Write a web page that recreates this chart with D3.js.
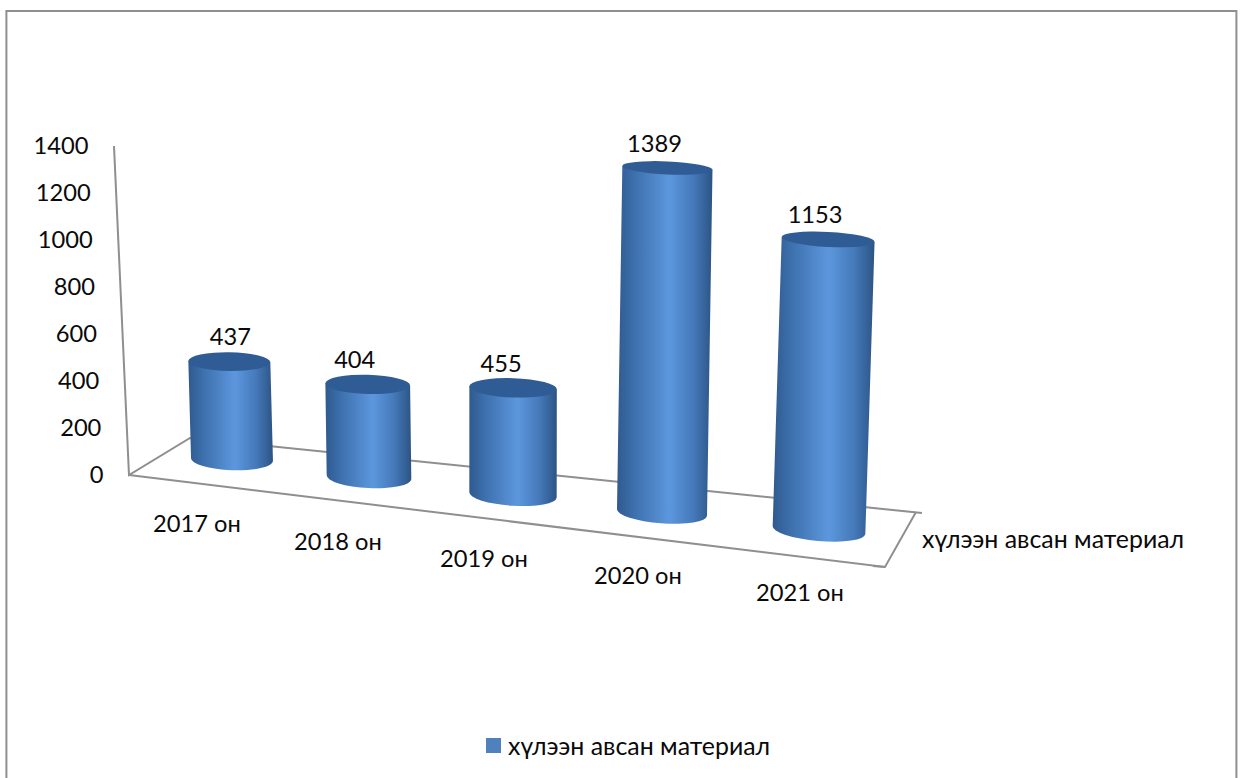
<!DOCTYPE html>
<html>
<head>
<meta charset="utf-8">
<script src="https://cdn.jsdelivr.net/npm/d3@7"></script>
<style>
  html, body { margin: 0; background: #fff; }
  text { font-family: Lato, "Open Sans", sans-serif; fill: #0a0a0a; font-size: 23.7px; }
  .series { font-size: 24.9px; }
</style>
</head>
<body>
<div id="chart"></div>
<script>
// data
const categories = ["2017 он", "2018 он", "2019 он", "2020 он", "2021 он"];
const values = [437, 404, 455, 1389, 1153];
const yTicks = [0, 200, 400, 600, 800, 1000, 1200, 1400];
const seriesName = "хүлээн авсан материал";

const width = 1241;
const height = 778;
const grey = "#8f8f8f";

const svg = d3.select("#chart").append("svg").attr("width", width).attr("height", height);

// chart frame
svg.append("rect")
  .attr("x", 6.4).attr("y", 11).attr("width", 1230).attr("height", 780)
  .attr("fill", "none").attr("stroke", grey).attr("stroke-width", 2);

// fake perspective: every scale runs along the position of the category on the floor
const last = categories.length - 1;
const slots = d3.range(categories.length);
const baseX = d3.scaleLinear().domain(slots).range([232, 369, 513, 662, 819]);
const baseY = d3.scaleLinear().domain([0, last]).range([459.5, 530]);
const labelX = d3.scaleLinear().domain(slots).range([197, 338, 484, 638, 800]);
const labelY = d3.scaleLinear().domain([0, last]).range([524, 593]);
const barWidth = d3.scaleLinear().domain([0, last]).range([82, 93]);
const pxPerUnit = d3.scaleLinear().domain([0, 2, 3, 4]).range([0.224, 0.235, 0.248, 0.252]);
const baseTilt = d3.scaleLinear().domain([0, last]).range([2, 5]);
const topTilt = d3.scaleLinear().domain([0, last]).range([1, 3]);
const ry = d3.scaleLinear().domain([168, 480]).range([6.5, 11]).clamp(true);
const labelNudge = [1, -13, -12, -13, -13];

// value axis
const y = d3.scaleLinear().domain([0, 1400]).range([475, 146]);
const axisX = d3.scaleLinear().domain([0, 1400]).range([129, 114]);

// walls and floor
const floor = svg.append("g").attr("fill", "none").attr("stroke", grey).attr("stroke-width", 2);
floor.append("path").attr("d", `M${axisX(1400)},${y(1400)}L${axisX(0)},${y(0)}L190,438L922,513`);
floor.append("path").attr("d", `M${axisX(0)},${y(0)}L885,567L916,512`);
floor.append("path").attr("d", "M873,566L885,567");

const yAxis = svg.append("g")
  .call(d3.axisLeft(y).tickValues(yTicks).tickFormat(d3.format("d")).tickSize(0).tickPadding(0));
yAxis.select(".domain").remove();
yAxis.selectAll(".tick")
  .attr("transform", (d) => `translate(${axisX(d) - 25.5},${y(d)})`);
yAxis.selectAll("text").attr("dy", "0.35em");
yAxis.attr("font-family", null).attr("font-size", null);

// cylinder shading
const defs = svg.append("defs");
const side = defs.append("linearGradient").attr("id", "side");
side.selectAll("stop")
  .data([[0, "#2f5a8f"], [0.18, "#3d70ad"], [0.55, "#5c97dd"], [0.8, "#4579ba"], [1, "#2c5484"]])
  .enter().append("stop")
  .attr("offset", (d) => d[0]).attr("stop-color", (d) => d[1]);

const bars = categories.map((c, i) => {
  const h = values[i] * pxPerUnit(i);
  const x0 = baseX(i);
  const y0 = baseY(i);
  const yt = y0 - h;
  return { c, i, x0, y0, yt, xt: x0 + h * (x0 - 505) * 0.0001, r: barWidth(i) / 2 };
});

const arcEnd = (cx, cy, r, deg, sign) => {
  const a = (deg * Math.PI) / 180;
  return [cx + sign * r * Math.cos(a), cy + sign * r * Math.sin(a)];
};

const g = svg.append("g").selectAll("g").data(bars).enter().append("g");

// body
g.append("path")
  .attr("fill", "url(#side)")
  .attr("d", (d) => {
    const tl = arcEnd(d.xt, d.yt, d.r, topTilt(d.i), -1);
    const tr = arcEnd(d.xt, d.yt, d.r, topTilt(d.i), 1);
    const bl = arcEnd(d.x0, d.y0, d.r, baseTilt(d.i), -1);
    const br = arcEnd(d.x0, d.y0, d.r, baseTilt(d.i), 1);
    return `M${tl}L${tr}L${br}A${d.r},${ry(d.y0)} ${baseTilt(d.i)} 0 1 ${bl}Z`;
  });

// lid
g.append("ellipse")
  .attr("rx", (d) => d.r)
  .attr("ry", (d) => ry(d.yt))
  .attr("fill", "#2f5c94")
  .attr("transform", (d) => `translate(${d.xt},${d.yt}) rotate(${topTilt(d.i)})`);

// data labels
g.append("text")
  .attr("x", (d) => d.xt + labelNudge[d.i])
  .attr("y", (d) => d.yt - 24.5)
  .attr("dy", "0.35em")
  .attr("text-anchor", "middle")
  .text((d) => values[d.i]);

// category labels
svg.append("g").selectAll("text").data(categories).enter().append("text")
  .attr("x", (d, i) => labelX(i))
  .attr("y", (d, i) => labelY(i))
  .attr("dy", "0.35em")
  .attr("text-anchor", "middle")
  .text((d) => d);

// series name on the depth axis
svg.append("text").attr("class", "series").attr("x", 922).attr("y", 539).attr("dy", "0.35em").text(seriesName);

// legend
svg.append("rect").attr("x", 486).attr("y", 738).attr("width", 15).attr("height", 15).attr("fill", "#4f81bd");
svg.append("text").attr("class", "series").attr("x", 508).attr("y", 746).attr("dy", "0.35em").text(seriesName);
</script>
</body>
</html>
